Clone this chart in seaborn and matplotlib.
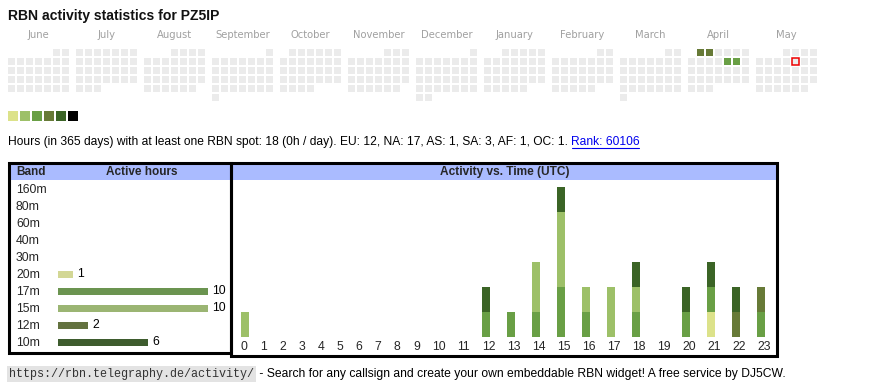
import calendar
import datetime as dt
import matplotlib
matplotlib.use("Agg")
import matplotlib.pyplot as plt
from matplotlib.patches import Rectangle
from matplotlib.transforms import ScaledTranslation
import numpy as np
import pandas as pd
import seaborn as sns

sns.set_theme(style="white")
plt.rcParams["font.family"] = ["Liberation Sans", "DejaVu Sans"]

callsign = "PZ5IP"
month_names = ["June", "July", "August", "September", "October", "November",
               "December", "January", "February", "March", "April", "May"]
month_years = [2024, 2024, 2024, 2024, 2024, 2024, 2024, 2025, 2025, 2025, 2025, 2025]
month_nums = [6, 7, 8, 9, 10, 11, 12, 1, 2, 3, 4, 5]

# days with activity and their level (index into level_colors)
active_days = ["2025-04-01", "2025-04-02", "2025-04-11", "2025-04-12"]
active_levels = [3, 3, 2, 2]
today = "2025-05-09"
level_colors = ["#dce28a", "#9dc068", "#699f45", "#677a37", "#3b6426", "#000000"]
empty_color = "#ebebeb"

bands = ["160m", "80m", "60m", "40m", "30m", "20m", "17m", "15m", "12m", "10m"]
band_hours = [0, 0, 0, 0, 0, 1, 10, 10, 2, 6]
band_colors = {"160m": "#000000", "80m": "#000000", "60m": "#000000",
               "40m": "#000000", "30m": "#000000", "20m": "#dce28a",
               "17m": "#699f45", "15m": "#9dc068", "12m": "#677a37",
               "10m": "#3b6426"}

hours = list(range(24))
# active hours per UTC hour, by band
h_20m = [0, 0, 0, 0, 0, 0, 0, 0, 0, 0, 0, 0, 0, 0, 0, 0, 0, 0, 0, 0, 0, 1, 0, 0]
h_17m = [0, 0, 0, 0, 0, 0, 0, 0, 0, 0, 0, 0, 1, 1, 1, 2, 1, 0, 1, 0, 1, 1, 0, 1]
h_15m = [1, 0, 0, 0, 0, 0, 0, 0, 0, 0, 0, 0, 0, 0, 2, 3, 1, 2, 1, 0, 0, 0, 0, 0]
h_12m = [0, 0, 0, 0, 0, 0, 0, 0, 0, 0, 0, 0, 0, 0, 0, 0, 0, 0, 0, 0, 0, 0, 1, 1]
h_10m = [0, 0, 0, 0, 0, 0, 0, 0, 0, 0, 0, 0, 1, 0, 0, 1, 0, 0, 1, 0, 1, 1, 1, 0]

stats_text = ("Hours (in 365 days) with at least one RBN spot: 18 (0h / day). "
              "EU: 12, NA: 17, AS: 1, SA: 3, AF: 1, OC: 1. ")
rank_text = "Rank: 60106"
footer_url = "https://rbn.telegraphy.de/activity/"
footer_text = (" - Search for any callsign and create your own embeddable RBN "
               "widget! A free service by DJ5CW.")

W, H = 870, 390
fig = plt.figure(figsize=(W / 100, H / 100), dpi=100)
fig.patch.set_facecolor("white")


def fig_rect(x0, y0, x1, y1):
    # pixel box (top-left origin) -> figure fraction
    return [x0 / W, 1 - y1 / H, (x1 - x0) / W, (y1 - y0) / H]


# overlay for page texts and table frames, pixel coordinates
ax0 = fig.add_axes([0, 0, 1, 1])
ax0.set_xlim(0, W)
ax0.set_ylim(H, 0)
ax0.axis("off")

ax0.text(8, 16, f"RBN activity statistics for {callsign}", fontsize=10.1,
         fontweight="bold", va="center", ha="left", color="#111111")

# ---- calendar ----
ax_cal = fig.add_axes([0, 0, 1, 1])
ax_cal.set_xlim(-8 / 9, (W - 8) / 9)
ax_cal.set_ylim((H - 49) / 9, -49 / 9)
ax_cal.axis("off")
ax_cal.patch.set_alpha(0)

level_by_day = dict(zip(active_days, active_levels))
block = 68 / 9
xs, ys, cols, today_xy = [], [], [], None
for m, (yr, mo) in enumerate(zip(month_years, month_nums)):
    first_wd, ndays = calendar.monthrange(yr, mo)
    for d in range(1, ndays + 1):
        day = dt.date(yr, mo, d)
        x = m * block + day.weekday()
        y = (d - 1 + first_wd) // 7
        key = day.isoformat()
        xs.append(x)
        ys.append(y)
        cols.append(level_colors[level_by_day[key]] if key in level_by_day else empty_color)
        if key == today:
            today_xy = (x, y)
    ax_cal.text(m * block + 30.5 / 9, -13.5 / 9, month_names[m], ha="center",
                va="center", fontsize=7.2, color="#a0a0a0", family="DejaVu Sans")

ax_cal.bar(xs, 7 / 9, width=7 / 9, bottom=ys, align="edge", color=cols, linewidth=0)
if today_xy is not None:
    ax_cal.bar([today_xy[0]], 7 / 9, width=7 / 9, bottom=[today_xy[1]], align="edge",
               facecolor="none", edgecolor="#ee0000", linewidth=1.1)

# colour legend
for i, c in enumerate(level_colors):
    ax0.add_patch(Rectangle((8 + 12 * i, 111), 10, 10, facecolor=c, edgecolor="none"))

# stats line
t1 = ax0.text(8, 142, stats_text, fontsize=8.65, va="center", ha="left", color="black")
fig.canvas.draw()
inv = ax0.transData.inverted()
bb = t1.get_window_extent()
x_end = inv.transform((bb.x1, bb.y0))[0]
t2 = ax0.text(x_end, 142, rank_text, fontsize=8.65, va="center", ha="left", color="#0000ee")
fig.canvas.draw()
bb2 = t2.get_window_extent()
x_end2 = inv.transform((bb2.x1, bb2.y0))[0]
ax0.plot([x_end + 1, x_end2 - 1], [148, 148], color="#0000ee", lw=0.8)

# table frames and headers
ax0.add_patch(Rectangle((10, 164), 767, 15.5, facecolor="#aabbff", edgecolor="none"))
ax0.add_patch(Rectangle((9.5, 162.5), 222, 190, facecolor="none", edgecolor="black", lw=2.2))
ax0.add_patch(Rectangle((231.5, 162.5), 546, 193, facecolor="none", edgecolor="black", lw=2.2))
ax0.text(16, 172, "Band", fontsize=8.5, fontweight="bold", va="center", ha="left")
ax0.text(142, 172, "Active hours", fontsize=8.5, fontweight="bold", va="center", ha="center")
ax0.text(505, 172, "Activity vs. Time (UTC)", fontsize=8.6, fontweight="bold",
         va="center", ha="center")

# ---- band bars ----
ax_band = fig.add_axes(fig_rect(58, 180.8, 230, 350.8))
ax_band.patch.set_alpha(0)
band_df = pd.DataFrame({"band": bands, "hours": band_hours})
sns.barplot(data=band_df, x="hours", y="band", hue="band", palette=band_colors,
            order=bands, orient="y", width=7 / 17, legend=False, linewidth=0,
            errorbar=None, ax=ax_band)
for cont in ax_band.containers:
    labels = [str(int(v)) if v > 0 else "" for v in cont.datavalues]
    ax_band.bar_label(cont, labels=labels, padding=3, fontsize=8.8, color="black")
ax_band.set_xlim(0, 172 / 15)
ax_band.set_ylim(len(bands) - 0.5, -0.5)
ax_band.set_xticks([])
ax_band.set_yticks([])
ax_band.set_xlabel("")
ax_band.set_ylabel("")
# band names, left aligned at the table's text column
name_tr = ax_band.transData + ScaledTranslation(0, -0.01, fig.dpi_scale_trans)
for i, b in enumerate(bands):
    ax_band.text(-42 / 15, i, b, fontsize=8.8, ha="left", va="center",
                 transform=name_tr, clip_on=False)
for s in ax_band.spines.values():
    s.set_visible(False)

# ---- hourly stacked bars ----
ax_hr = fig.add_axes(fig_rect(234, 180, 776, 337))
ax_hr.patch.set_alpha(0)
hour_labels = [str(h) for h in hours]
col_w = np.array([13.2 + 5.9 * len(s) for s in hour_labels])
lefts = 241 + np.concatenate([[0], np.cumsum(col_w[:-1])])
centers = lefts + 4
stack = [("20m", h_20m), ("17m", h_17m), ("15m", h_15m), ("12m", h_12m), ("10m", h_10m)]
cum = np.cumsum(np.array([v for _, v in stack]), axis=0)
for k in range(len(stack) - 1, -1, -1):
    hr_df = pd.DataFrame({"x": centers, "y": cum[k]})
    sns.barplot(data=hr_df, x="x", y="y", native_scale=True, orient="x",
                width=8 / col_w.min(), color=band_colors[stack[k][0]],
                saturation=1, linewidth=0, errorbar=None, ax=ax_hr)
ax_hr.set_xlim(234, 776)
ax_hr.set_ylim(0, (337 - 180) / 25)
ax_hr.set_yticks([])
ax_hr.set_xticks(lefts)
ax_hr.set_xticklabels(hour_labels, ha="left")
ax_hr.tick_params(axis="x", length=0, pad=2.8, labelsize=8.8)
ax_hr.set_xlabel("")
ax_hr.set_ylabel("")
for s in ax_hr.spines.values():
    s.set_visible(False)

# footer
t3 = ax0.text(9, 374, footer_url, fontsize=8.5, family="Liberation Mono", va="center",
              ha="left", color="#333333",
              bbox=dict(facecolor="#e3e3e3", edgecolor="none", pad=1.5))
fig.canvas.draw()
bb3 = t3.get_window_extent()
x3 = inv.transform((bb3.x1, bb3.y0))[0]
ax0.text(x3 + 2, 374, footer_text, fontsize=8.75, va="center", ha="left", color="black")

fig.savefig("out.png", dpi=100)
